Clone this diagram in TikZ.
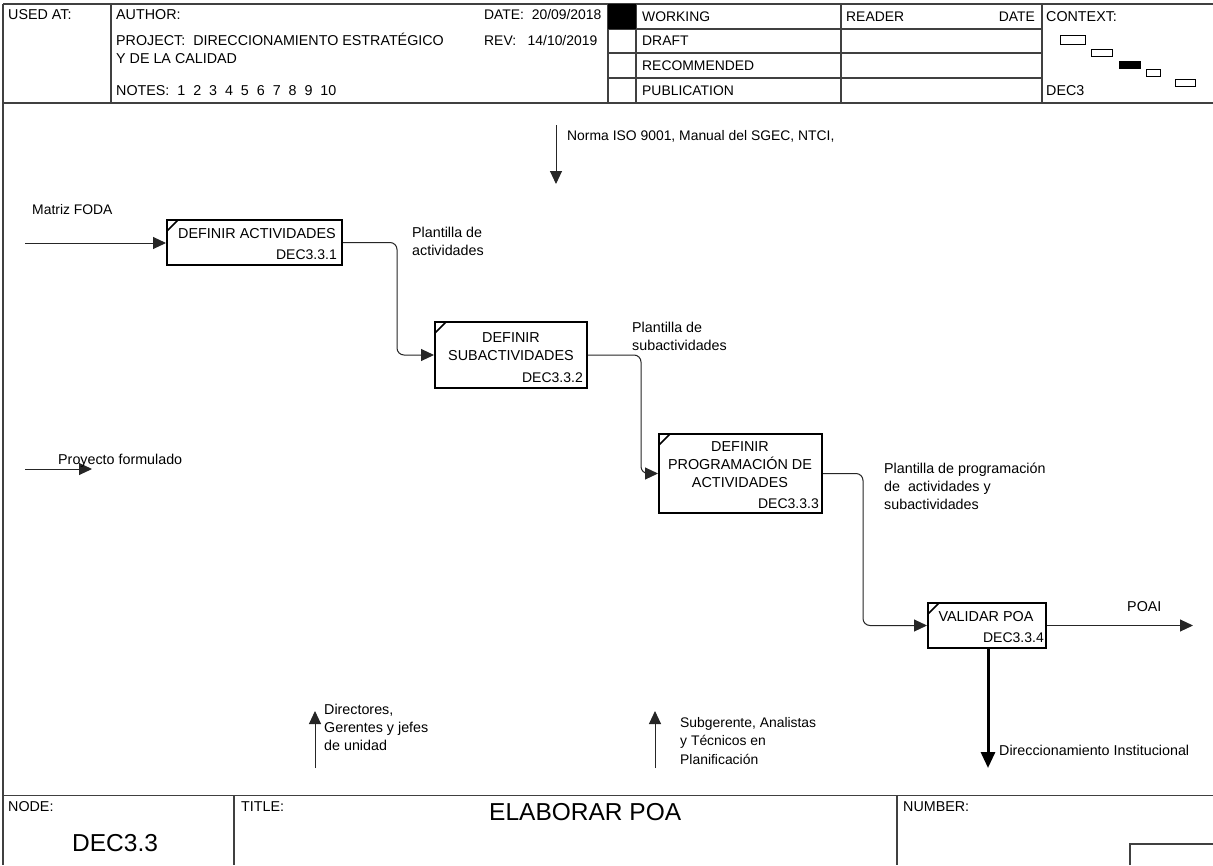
\documentclass[tikz,border=0pt]{standalone}
\usepackage{fontspec}
\setmainfont{Liberation Sans}
\usetikzlibrary{arrows.meta,calc}
\tikzset{
  x=1pt,y=-1pt,
  rule/.style={line width=1.2pt,draw=black!75},
  txt/.style={anchor=base west,inner sep=0pt,font=\fontsize{14.3}{17}\selectfont,align=left},
  txts/.style={anchor=base west,inner sep=0pt,font=\fontsize{13.9}{17}\selectfont,align=left},
  lab/.style={txt},
  labs/.style={txts},
  btxt/.style={anchor=base,inner sep=0pt,font=\fontsize{14.4}{17}\selectfont},
  big/.style={anchor=base west,inner sep=0pt,font=\fontsize{24.5}{28}\selectfont},
  box/.style={draw=black,line width=2pt,fill=white,inner sep=0pt},
  bid/.style={anchor=base east,inner sep=0pt,font=\fontsize{14}{17}\selectfont},
  conn/.style={line width=1pt,draw=black!85,-{Triangle[length=13pt,width=12pt]}},
  ctx/.style={draw=black,line width=.9pt,fill=white,inner sep=0pt},
}
\newcommand{\idefbox}[5]{% name, x1,y1,x2,y2
  \node[box,minimum width=#4-#2,minimum height=#5-#3] (#1) at ({(#2+#4)/2},{(#3+#5)/2}) {};
  \draw[line width=1.5pt] (#2,#3+11) -- (#2+11,#3);
}
\begin{document}
\begin{tikzpicture}
\useasboundingbox (0,0) rectangle (1213,865);
\fill[white] (0,0) rectangle (1213,865);
% frame
\draw[rule] (3,4) -- (1213,4);
\draw[rule] (3,4) -- (3,865);
\draw[rule] (3,103) -- (1213,103);
\draw[rule] (3,795.5) -- (1213,795.5);
\draw[rule] (111,4) -- (111,103);
\draw[rule] (608,4) -- (608,103);
\draw[rule] (636,4) -- (636,103);
\draw[rule] (841,4) -- (841,103);
\draw[rule] (1042,4) -- (1042,103);
\draw[rule] (608,29) -- (1042,29);
\draw[rule] (608,53) -- (1042,53);
\draw[rule] (608,78) -- (1042,78);
\fill[black] (608,4) rectangle (636,29);
\draw[rule] (234,795.5) -- (234,865);
\draw[rule] (897,795.5) -- (897,865);
\draw[rule] (1130,865) -- (1130,844) -- (1213,844);
% header text
\node[txt] (usedat) at (8,19) {USED AT:};
\node[txt] (author) at (116,19) {AUTHOR:};
\node[txt] (project) at (116,45) {PROJECT:\ \ DIRECCIONAMIENTO ESTRATÉGICO};
\node[txt] (project2) at (116,63) {Y DE LA CALIDAD};
\node[txt] (notes) at (116,95) {NOTES:\ \ 1\ \ 2\ \ 3\ \ 4\ \ 5\ \ 6\ \ 7\ \ 8\ \ 9\ \ 10};
\node[txts] (date) at (484,19) {DATE:\ \ 20/09/2018};
\node[txts] (rev) at (484,45) {REV:\ \ \ 14/10/2019};
\node[txts] (working) at (642,21) {WORKING};
\node[txts] (draft) at (642,45) {DRAFT};
\node[txts] (recommended) at (642,70) {RECOMMENDED};
\node[txts] (publication) at (642,95) {PUBLICATION};
\node[txts] (reader) at (846,21) {READER};
\node[txts,anchor=base east] (rdate) at (1035,21) {DATE};
\node[txt] (context) at (1046,21) {CONTEXT:};
\node[txt] (dec3) at (1046,95) {DEC3};
% context thumbnails
\draw[ctx] (1060,35) rectangle (1085,44);
\draw[ctx] (1091,49) rectangle (1112,56);
\draw[ctx,fill=black] (1119,61) rectangle (1140,68);
\draw[ctx] (1146,69) rectangle (1160,76);
\draw[ctx] (1175,79) rectangle (1195,86);
% boxes
\idefbox{b1}{167}{220}{342}{265}
\idefbox{b2}{435}{322}{587}{388}
\idefbox{b3}{659}{434}{822}{513}
\idefbox{b4}{928}{603}{1046}{648}
\node[btxt] (b1t) at (257,238) {DEFINIR ACTIVIDADES};
\node[bid] (b1i) at (337,259) {DEC3.3.1};
\node[btxt] (b2t1) at (511,342) {DEFINIR};
\node[btxt] (b2t2) at (511,360) {SUBACTIVIDADES};
\node[bid] (b2i) at (583,382) {DEC3.3.2};
\node[btxt] (b3t1) at (740,451) {DEFINIR};
\node[btxt] (b3t2) at (740,469) {PROGRAMACIÓN DE};
\node[btxt] (b3t3) at (740,487) {ACTIVIDADES};
\node[bid] (b3i) at (819,508) {DEC3.3.3};
\node[btxt] (b4t) at (986,621) {VALIDAR POA};
\node[bid] (b4i) at (1044,642) {DEC3.3.4};
% free ends
\coordinate (in1) at (25,243);
\coordinate (in2) at (25,469);
\coordinate (in2e) at (92,469);
\coordinate (ctlS) at (556,125);
\coordinate (ctlE) at (556,184);
\coordinate (mec1S) at (315,768);
\coordinate (mec1E) at (315,711);
\coordinate (mec2S) at (655,768);
\coordinate (mec2E) at (655,711);
\coordinate (outE) at (1193,627);
\coordinate (callE) at (988,768);
\coordinate (v1) at (397,0);
\coordinate (v2) at (641,0);
\coordinate (v3) at (863,0);
% connectors
\draw[conn] (in1) -- (in1 -| b1.west);
\draw[conn] (in2) -- (in2e);
\draw[conn] (ctlS) -- (ctlE);
\draw[conn] (mec1S) -- (mec1E);
\draw[conn] (mec2S) -- (mec2E);
\draw[conn,rounded corners=7pt] (b1.east) -- (b1.east -| v1) -- (b2.west -| v1) -- (b2.west);
\draw[conn,rounded corners=7pt] (b2.east) -- (b2.east -| v2) -- (b3.west -| v2) -- (b3.west);
\draw[conn,rounded corners=7pt] (b3.east) -- (b3.east -| v3) -- (b4.west -| v3) -- (b4.west);
\draw[conn] (b4.east) -- (b4.east -| outE);
\draw[line width=3pt,-{Triangle[length=16pt,width=14pt]}] (b4.south -| callE) -- (callE);
% labels
\node[labs] (l1) at (32,214) {Matriz FODA};
\node[lab] (l2) at (58,464) {Proyecto formulado};
\node[labs] (l3) at (567,140) {Norma ISO 9001, Manual del SGEC, NTCI,};
\node[lab] (l4) at (412,237) {Plantilla de};
\node[lab] (l4b) at (412,255) {actividades};
\node[lab] (l5) at (632,332) {Plantilla de};
\node[lab] (l5b) at (632,350) {subactividades};
\node[lab] (l6) at (884,473) {Plantilla de programación};
\node[lab] (l6b) at (884,491) {de\ \ actividades y};
\node[lab] (l6c) at (884,509) {subactividades};
\node[lab] (l7) at (1127,611) {POAI};
\node[lab] (l8) at (999,755) {Direccionamiento Institucional};
\node[lab] (l9) at (324,714) {Directores,};
\node[lab] (l9b) at (324,732) {Gerentes y jefes};
\node[lab] (l9c) at (324,750) {de unidad};
\node[labs] (l10) at (680,727) {Subgerente, Analistas};
\node[labs] (l10b) at (680,745) {y Técnicos en};
\node[labs] (l10c) at (680,764) {Planificación};
% footer
\node[txt] (node) at (8,811) {NODE:};
\node[big] (nodev) at (72,851) {DEC3.3};
\node[txt] (title) at (241,811) {TITLE:};
\node[big] (titlev) at (489,820) {ELABORAR POA};
\node[txt] (number) at (903,811) {NUMBER:};
\end{tikzpicture}
\end{document}
